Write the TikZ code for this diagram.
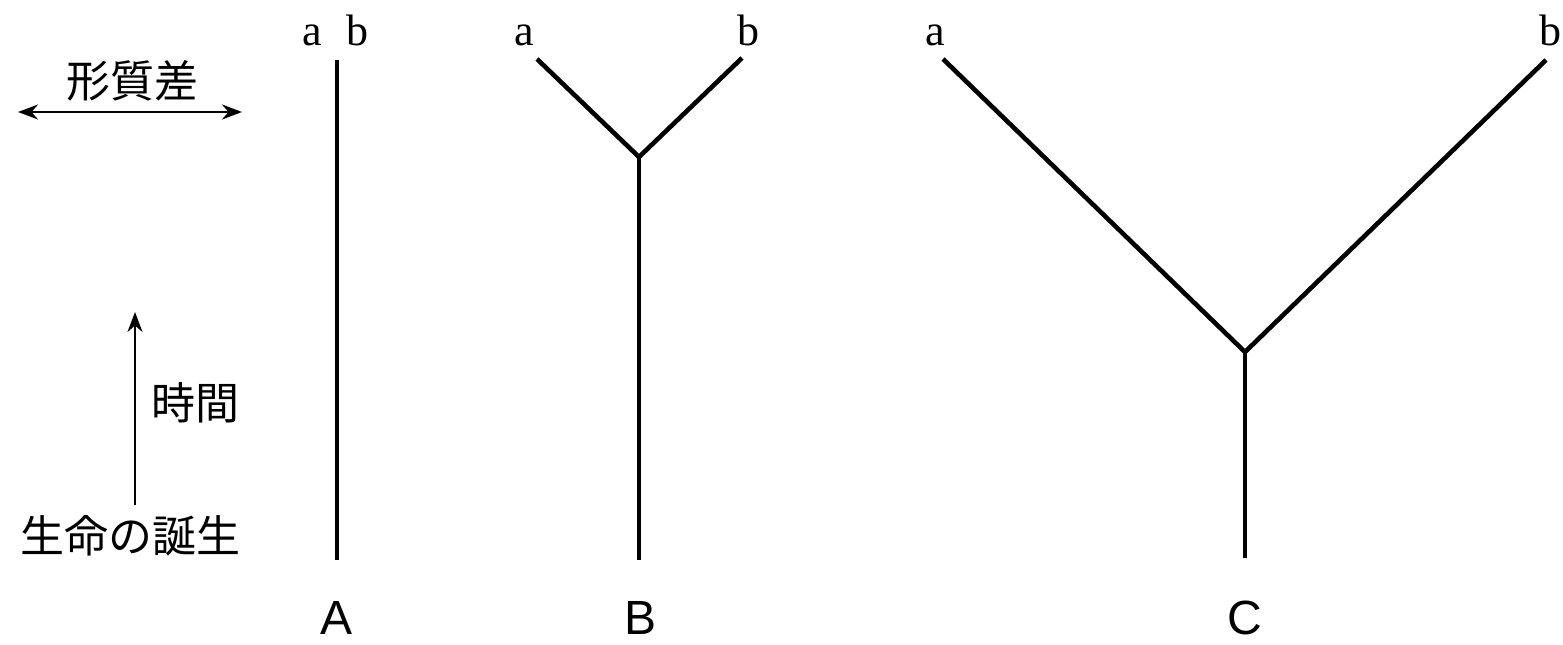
\documentclass[tikz,border=0pt]{standalone}
\usepackage{fontspec}
\setmainfont{Liberation Serif}
\newfontfamily\jpfont{Noto Sans CJK JP}
\newfontfamily\capfont{Liberation Sans}
\usetikzlibrary{arrows.meta}

\begin{document}
\begin{tikzpicture}[x=1pt, y=-1pt,
  branch/.style={line width=4.6pt},
  axis/.style={line width=2.4pt},
  tipl/.style={font=\fontsize{44}{44}\selectfont, inner sep=0pt, anchor=base},
  jp/.style={font=\jpfont\fontsize{44}{44}\selectfont, inner sep=0pt},
  treelbl/.style={font=\capfont\fontsize{48}{48}\selectfont, inner sep=0pt, anchor=base},
  >={Stealth[length=20pt,width=15pt]}]
  \useasboundingbox (0,0) rectangle (1563,645);
  % legend
  \node[jp] (trait) at (132,81) {形質差};
  \coordinate (tl) at (18,112);
  \coordinate (tr) at (242,112);
  \draw[axis, <->] (tl) -- (tr);
  \node[jp] (origin) at (130,536) {生命の誕生};
  \node[jp] (time) at (195,403) {時間};
  \coordinate (tb) at (135,505);
  \coordinate (tt) at (135,312);
  \draw[axis, ->] (tb) -- (tt);
  % A
  \node[tipl] (Aa) at (312,45) {a};
  \node[tipl] (Ab) at (357,45) {b};
  \coordinate (Atop) at (337,60);
  \coordinate (Abot) at (337,560);
  \draw[branch] (Atop) -- (Abot);
  \node[treelbl] (A) at (337,634) {A};
  % B
  \node[tipl] (Ba) at (524,45) {a};
  \node[tipl] (Bb) at (748,45) {b};
  \coordinate (Bl) at (537,59);
  \coordinate (Br) at (742,58);
  \coordinate (Bj) at (639,157);
  \coordinate (Bbot) at (639,560);
  \draw[branch] (Bl) -- (Bj) -- (Br);
  \draw[branch] (Bj) -- (Bbot);
  \node[treelbl] (B) at (640,634) {B};
  % C
  \node[tipl] (Ca) at (935,45) {a};
  \node[tipl] (Cb) at (1550,45) {b};
  \coordinate (Cl) at (943,59);
  \coordinate (Cr) at (1546,60);
  \coordinate (Cj) at (1245,352);
  \coordinate (Cbot) at (1245,558);
  \draw[branch] (Cl) -- (Cj) -- (Cr);
  \draw[branch] (Cj) -- (Cbot);
  \node[treelbl] (C) at (1245,634) {C};
\end{tikzpicture}
\end{document}
